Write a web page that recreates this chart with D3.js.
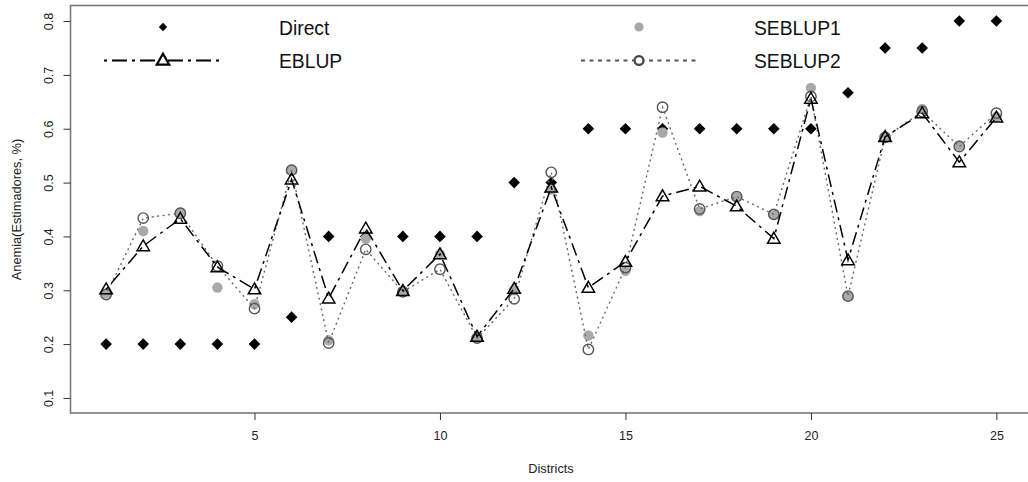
<!DOCTYPE html>
<html><head><meta charset="utf-8">
<script src="https://cdn.jsdelivr.net/npm/d3@7/dist/d3.min.js"></script>
<style>html,body{margin:0;padding:0;background:#fff;overflow:hidden}svg{display:block;font-family:"Liberation Sans",Arial,sans-serif}</style>
</head><body><svg id="c" width="1028" height="482"></svg>
<script>
const districts = [1,2,3,4,5,6,7,8,9,10,11,12,13,14,15,16,17,18,19,20,21,22,23,24,25];
const direct  = [0.2,0.2,0.2,0.2,0.2,0.25,0.4,0.4,0.4,0.4,0.4,0.5,0.5,0.6,0.6,0.6,0.6,0.6,0.6,0.6,0.667,0.75,0.75,0.8,0.8];
const eblup   = [0.302,0.382,0.433,0.343,0.302,0.506,0.285,0.415,0.299,0.367,0.214,0.303,0.491,0.305,0.353,0.475,0.493,0.456,0.396,0.656,0.356,0.585,0.629,0.538,0.621];
const seblup1 = [0.294,0.410,0.444,0.305,0.274,0.523,0.207,0.396,0.297,0.367,0.211,0.300,0.487,0.216,0.336,0.593,0.447,0.474,0.441,0.676,0.289,0.585,0.637,0.569,0.622];
const seblup2 = [0.292,0.434,0.443,0.345,0.266,0.523,0.202,0.376,0.297,0.339,0.211,0.284,0.519,0.190,0.342,0.640,0.451,0.474,0.441,0.660,0.289,0.584,0.632,0.567,0.629];
const xTicks = [5,10,15,20,25];
const yTicks = [0.1,0.2,0.3,0.4,0.5,0.6,0.7,0.8];
const legendNames = ["Direct","EBLUP","SEBLUP1","SEBLUP2"];
const xTitle = "Districts";
const yTitle = "Anemia(Estimadores, %)";

const svg = d3.select("#c");
const x = d3.scaleLinear().domain([0.04, 25.96]).range([70.5, 1032]);
const y = d3.scaleLinear().domain([0.072, 0.828]).range([413, 6]);

const DOTDASH = "3,5,13,5";
const DOTTED = "2,3.5";
const grayDot = "#a9a9a9";
const circStroke = "#555";

// frame
svg.append("rect").attr("x",70.5).attr("y",5.5).attr("width",1032-70.5).attr("height",413-5.5)
  .attr("fill","none").attr("stroke","#7a7a7a").attr("stroke-width",1.6);

// axes
const xAxis = d3.axisBottom(x).tickValues(xTicks).tickSize(7).tickPadding(11).tickFormat(d3.format("d"));
const gx = svg.append("g").attr("transform","translate(0,413)").call(xAxis);
gx.select(".domain").remove();
gx.selectAll(".tick line").attr("stroke","#333");
gx.selectAll(".tick text").attr("font-size",12.5).attr("fill","#222").attr("font-family","Liberation Sans, Arial, sans-serif");

const gy = svg.append("g").attr("transform","translate(70.5,0)")
  .call(d3.axisLeft(y).tickValues(yTicks).tickSize(7).tickFormat(d3.format(".1f")));
gy.select(".domain").remove();
gy.selectAll(".tick line").attr("stroke","#333");
gy.selectAll(".tick text").attr("font-size",12.5).attr("fill","#222").attr("font-family","Liberation Sans, Arial, sans-serif")
  .attr("x",0).attr("dy",0).attr("text-anchor","middle")
  .attr("transform","translate(-18,0) rotate(-90)");

svg.append("text").attr("x",551).attr("y",473).attr("text-anchor","middle").attr("font-size",12.8).attr("fill","#222").text(xTitle);
svg.append("text").attr("transform","translate(21,209.5) rotate(-90)").attr("text-anchor","middle").attr("font-size",12.8).attr("fill","#222").text(yTitle);

const diamond = s => `M0,${-s}L${s},0L0,${s}L${-s},0Z`;
const tri = r => `M0,${-r}L${r*Math.sqrt(3)/2},${r/2}L${-r*Math.sqrt(3)/2},${r/2}Z`;

const data = districts.map((d,i)=>({d, direct:direct[i], eblup:eblup[i], s1:seblup1[i], s2:seblup2[i]}));

// Direct
svg.append("g").selectAll("path").data(data).join("path")
  .attr("d", diamond(5.8)).attr("fill","#000")
  .attr("transform", p=>`translate(${x(p.d)},${y(p.direct)})`);

// SEBLUP1 points
svg.append("g").selectAll("circle").data(data).join("circle")
  .attr("cx",p=>x(p.d)).attr("cy",p=>y(p.s1)).attr("r",5.2).attr("fill",grayDot);

// SEBLUP2 line + open circles
svg.append("path").datum(data).attr("fill","none").attr("stroke","#666").attr("stroke-width",1.4)
  .attr("stroke-dasharray",DOTTED)
  .attr("d", d3.line().x(p=>x(p.d)).y(p=>y(p.s2)));
svg.append("g").selectAll("circle").data(data).join("circle")
  .attr("cx",p=>x(p.d)).attr("cy",p=>y(p.s2)).attr("r",5.2).attr("fill","none")
  .attr("stroke",circStroke).attr("stroke-width",1.4);

// EBLUP line + triangles
svg.append("path").datum(data).attr("fill","none").attr("stroke","#000").attr("stroke-width",1.5)
  .attr("stroke-dasharray",DOTDASH)
  .attr("d", d3.line().x(p=>x(p.d)).y(p=>y(p.eblup)));
svg.append("g").selectAll("path").data(data).join("path")
  .attr("d", tri(7.2)).attr("fill","none").attr("stroke","#000").attr("stroke-width",1.5)
  .attr("transform", p=>`translate(${x(p.d)},${y(p.eblup)+1})`);

// Legend
const lg = svg.append("g");
lg.append("path").attr("d",diamond(4.2)).attr("fill","#000").attr("transform","translate(163,27)");
lg.append("line").attr("x1",104).attr("x2",219).attr("y1",60.5).attr("y2",60.5)
  .attr("stroke","#000").attr("stroke-width",2.2).attr("stroke-dasharray","3,5,15,5");
lg.append("path").attr("d",tri(7.2)).attr("fill","#fff").attr("stroke","#000").attr("stroke-width",2.2)
  .attr("transform","translate(163,61)");
lg.append("circle").attr("cx",639).attr("cy",27).attr("r",4.6).attr("fill",grayDot);
lg.append("line").attr("x1",581).attr("x2",697).attr("y1",60.5).attr("y2",60.5)
  .attr("stroke","#555").attr("stroke-width",2).attr("stroke-dasharray","4,4.5");
lg.append("circle").attr("cx",639).attr("cy",60.5).attr("r",4.4).attr("fill","#fff")
  .attr("stroke","#444").attr("stroke-width",2.2);
const lt = [[279,35,legendNames[0]],[279,68,legendNames[1]],[754,35,legendNames[2]],[754,68,legendNames[3]]];
lt.forEach(([tx,ty,t])=>lg.append("text").attr("x",tx).attr("y",ty).attr("font-size",19.3).attr("fill","#111").text(t));
</script></body></html>
